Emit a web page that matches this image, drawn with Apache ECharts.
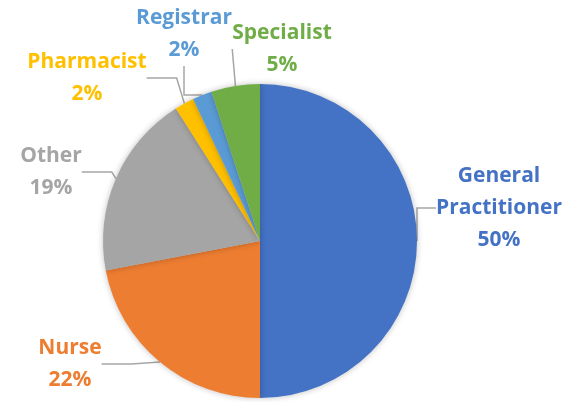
<!DOCTYPE html>
<html>
<head>
<meta charset="utf-8">
<script src="https://cdn.jsdelivr.net/npm/echarts@6/dist/echarts.min.js"></script>
<style>
  html, body { margin: 0; padding: 0; background: #fff; }
  #chart { width: 580px; height: 402px; }
</style>
</head>
<body>
<div id="chart"></div>
<script>
const categories = ['General Practitioner', 'Nurse', 'Other', 'Pharmacist', 'Registrar', 'Specialist']
const shares = [50, 22, 19, 2, 2, 5]
const colors = ['#4472C4', '#ED7D31', '#A5A5A5', '#FFC000', '#5B9BD5', '#70AD47']
// label anchor (centre of the text block) for each slice
const labelSpots = [[499, 208], [70, 364], [51, 172], [87, 78], [184, 34], [282, 49]]

const chart = echarts.init(document.getElementById('chart'), null, { renderer: 'canvas' })

chart.setOption({
  animation: false,
  series: [{
    type: 'pie',
    center: [260, 241],
    radius: 157,
    startAngle: 90,
    clockwise: true,
    itemStyle: {
      shadowBlur: 6,
      shadowColor: 'rgba(0,0,0,0.25)'
    },
    label: {
      show: true,
      fontFamily: 'Open Sans',
      fontWeight: 'bold',
      fontSize: 21,
      lineHeight: 32,
      align: 'center',
      overflow: 'none',
      formatter: p => p.name.replace(' ', '\n') + '\n' + p.value + '%'
    },
    labelLine: {
      show: true,
      lineStyle: { color: '#A6A6A6', width: 1.5 }
    },
    labelLayout: params => ({
      x: labelSpots[params.dataIndex][0],
      y: labelSpots[params.dataIndex][1],
      align: 'center',
      verticalAlign: 'middle'
    }),
    data: categories.map((name, i) => ({
      name,
      value: shares[i],
      itemStyle: { color: colors[i] },
      label: { color: colors[i] }
    }))
  }]
})
</script>
</body>
</html>
